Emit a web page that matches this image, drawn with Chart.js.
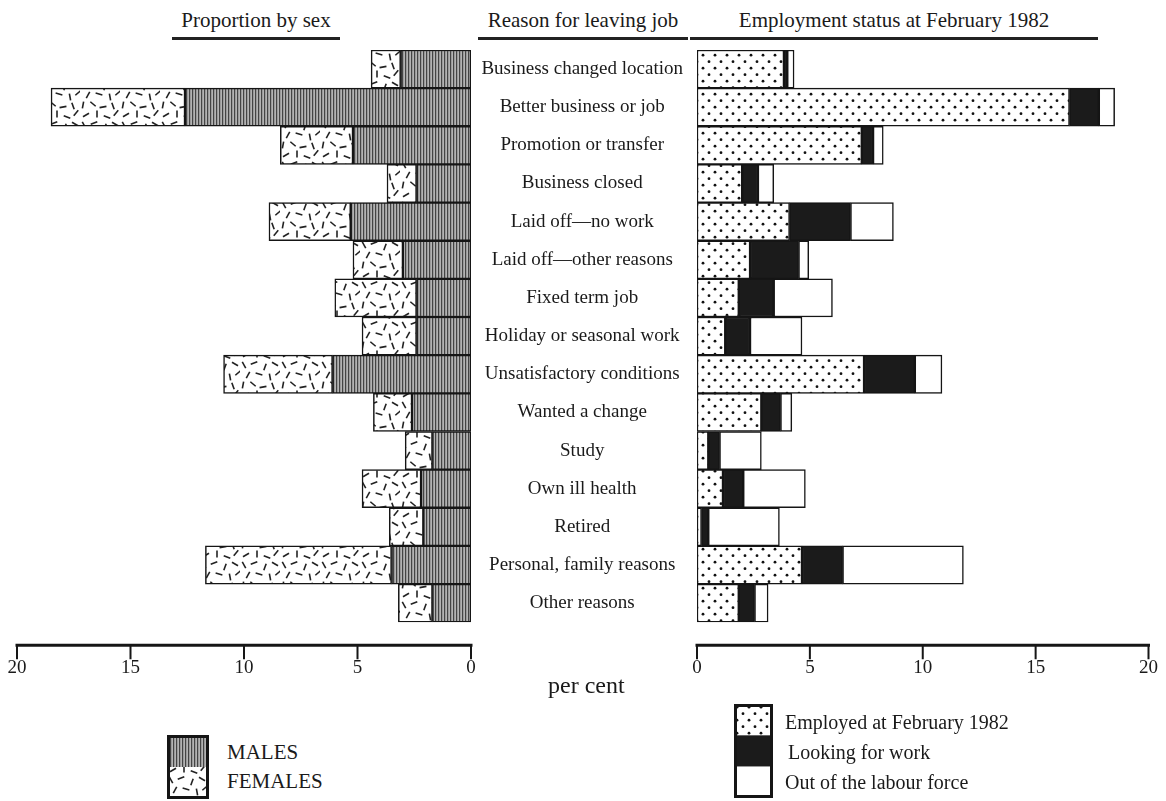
<!DOCTYPE html>
<html>
<head>
<meta charset="utf-8">
<script src="https://cdn.jsdelivr.net/npm/chart.js@4.4.1/dist/chart.umd.min.js"></script>
<style>
    body { margin: 0; background: #fff; font-family: "Liberation Serif", "DejaVu Serif", serif; color: #1a1a1a; }
    #page { position: relative; width: 1166px; height: 801px; overflow: hidden; }
    .box { position: absolute; }
    .head { position: absolute; top: 6px; height: 31px; font-size: 21px; text-align: center; border-bottom: 3px solid #222; line-height: 28px; white-space: nowrap; }
    .lab { position: absolute; white-space: nowrap; line-height: 1; }
</style>
</head>
<body>
<div id="page">
    <div class="head" style="left:172px; width:168px;">Proportion by sex</div>
    <div class="head" style="left:478px; width:210px;">Reason for leaving job</div>
    <div class="head" style="left:690px; width:408px;">Employment status at February 1982</div>

    <div class="box" style="left:0; top:0; width:476px; height:735px;"><canvas id="sexChart"></canvas></div>
    <!-- wider than the page on purpose: chart.js keeps tick padding at the right end -->
    <div class="box" style="left:472px; top:0; width:720px; height:735px;"><canvas id="statusChart"></canvas></div>

    <div class="lab" style="left:548px; top:673px; font-size:24px;">per cent</div>

    <!-- legends -->
    <canvas id="legSex" width="42" height="64" style="position:absolute; left:167px; top:735px;"></canvas>
    <div class="lab" style="left:227px; top:742px; font-size:21px;">MALES</div>
    <div class="lab" style="left:227px; top:771px; font-size:21px;">FEMALES</div>

    <canvas id="legStatus" width="39" height="94" style="position:absolute; left:734px; top:704px;"></canvas>
    <div class="lab" style="left:785px; top:712px; font-size:20px;">Employed at February 1982</div>
    <div class="lab" style="left:788px; top:742px; font-size:20px;">Looking for work</div>
    <div class="lab" style="left:785px; top:772px; font-size:20px;">Out of the labour force</div>
</div>

<script>
const reasons = [
    "Business changed location",
    "Better business or job",
    "Promotion or transfer",
    "Business closed",
    "Laid off\u2014no work",
    "Laid off\u2014other reasons",
    "Fixed term job",
    "Holiday or seasonal work",
    "Unsatisfactory conditions",
    "Wanted a change",
    "Study",
    "Own ill health",
    "Retired",
    "Personal, family reasons",
    "Other reasons",
];

// per cent
const males = [3.1, 12.6, 5.2, 2.4, 5.3, 3.0, 2.4, 2.4, 6.1, 2.6, 1.7, 2.2, 2.1, 3.5, 1.7];
const females = [1.3, 5.9, 3.2, 1.3, 3.6, 2.2, 3.6, 2.4, 4.8, 1.7, 1.2, 2.6, 1.5, 8.2, 1.5];

const employed = [3.85, 16.5, 7.3, 2.0, 4.1, 2.35, 1.85, 1.25, 7.4, 2.85, 0.5, 1.15, 0.2, 4.65, 1.85];
const looking = [0.15, 1.3, 0.5, 0.7, 2.7, 2.15, 1.55, 1.1, 2.25, 0.85, 0.5, 0.9, 0.3, 1.8, 0.7];
const outOfLabour = [0.3, 0.7, 0.45, 0.7, 1.9, 0.45, 2.6, 2.3, 1.2, 0.5, 1.85, 2.75, 3.15, 5.35, 0.6];

const xTicks = [0, 5, 10, 15, 20];

// ---- fill patterns ----
function makePattern(w, h, paint) {
    const c = document.createElement("canvas");
    c.width = w; c.height = h;
    paint(c.getContext("2d"));
    return document.createElement("canvas").getContext("2d").createPattern(c, "repeat");
}

const malePattern = makePattern(3, 3, (g) => {
    g.fillStyle = "#b3b3b3"; g.fillRect(0, 0, 3, 3);
    g.fillStyle = "#9a9a9a"; g.fillRect(1, 0, 1, 3);
    g.fillStyle = "#444"; g.fillRect(0, 0, 1, 3);
});

const dashes = [[4,5,60],[14,3,-20],[25,7,110],[35,4,30],[8,15,-60],[19,14,15],[30,17,80],[38,13,-40],
                [3,25,100],[13,24,40],[23,27,-10],[33,26,70],[6,35,-30],[17,34,90],[27,37,20],[36,33,130]];
const femalePattern = makePattern(40, 40, (g) => {
    g.fillStyle = "#fff"; g.fillRect(0, 0, 40, 40);
    g.strokeStyle = "#222"; g.lineWidth = 1.6;
    dashes.forEach(([x, y, a]) => {
        const r = a * Math.PI / 180, dx = Math.cos(r) * 3.5, dy = Math.sin(r) * 3.5;
        g.beginPath(); g.moveTo(x - dx, y - dy); g.lineTo(x + dx, y + dy); g.stroke();
    });
});

const dotPattern = makePattern(12, 13, (g) => {
    g.fillStyle = "#fff"; g.fillRect(0, 0, 12, 13);
    g.fillStyle = "#111";
    [[3, 3.2], [9, 9.7]].forEach(([x, y]) => { g.beginPath(); g.arc(x, y, 1.4, 0, Math.PI * 2); g.fill(); });
});

// axis line with downward ticks, a little below the bars
const axisLine = {
    id: "axisLine",
    afterDraw(chart) {
        const xs = chart.scales.x, ctx = chart.ctx;
        const y0 = chart.chartArea.bottom + 23;
        ctx.save();
        ctx.strokeStyle = "#161616";
        ctx.lineCap = "square";
        ctx.lineWidth = 3;
        ctx.beginPath();
        ctx.moveTo(xs.getPixelForValue(0), y0);
        ctx.lineTo(xs.getPixelForValue(20), y0);
        ctx.stroke();
        ctx.lineWidth = 2;
        ctx.beginPath();
        xTicks.forEach((v) => {
            const px = xs.getPixelForValue(v);
            ctx.moveTo(px, y0); ctx.lineTo(px, y0 + 13);
        });
        ctx.stroke();
        ctx.restore();
    }
};

const font = { family: "'Liberation Serif', serif", size: 19 };

function xAxis(reverse) {
    return {
        type: "linear", stacked: true, reverse: reverse, min: 0, max: 20,
        afterBuildTicks: (s) => { s.ticks = xTicks.map((v) => ({ value: v })); },
        grid: { display: false, drawTicks: false },
        border: { display: false },
        ticks: { font: font, color: "#1a1a1a", padding: 34, maxRotation: 0 },
    };
}

function barSet(label, data, fill) {
    return {
        label: label, data: data, backgroundColor: fill,
        borderColor: "#151515", borderWidth: 1.5, borderSkipped: false,
        barPercentage: 1, categoryPercentage: 1,
    };
}

// left panel: males / females, axis running right-to-left
new Chart(document.getElementById("sexChart"), {
    type: "bar",
    data: {
        labels: reasons,
        datasets: [barSet("MALES", males, malePattern), barSet("FEMALES", females, femalePattern)],
    },
    options: {
        indexAxis: "y", animation: false, responsive: true, maintainAspectRatio: false,
        layout: { padding: { left: 17, right: 5, top: 50, bottom: 22 } },
        plugins: { legend: { display: false }, tooltip: { enabled: false } },
        scales: {
            x: xAxis(true),
            y: { stacked: true, display: false },
        },
    },
    plugins: [axisLine],
});

// right panel: employment status, reasons as centred y labels
new Chart(document.getElementById("statusChart"), {
    type: "bar",
    data: {
        labels: reasons,
        datasets: [
            barSet("Employed at February 1982", employed, dotPattern),
            barSet("Looking for work", looking, "#1b1b1b"),
            barSet("Out of the labour force", outOfLabour, "#ffffff"),
        ],
    },
    options: {
        indexAxis: "y", animation: false, responsive: true, maintainAspectRatio: false,
        layout: { padding: { left: 0, right: 0, top: 50, bottom: 22 } },
        plugins: { legend: { display: false }, tooltip: { enabled: false } },
        scales: {
            x: xAxis(false),
            y: {
                stacked: true,
                grid: { display: false, drawTicks: false },
                border: { display: false },
                afterFit: (s) => { s.width = 225; },
                ticks: { font: font, color: "#1a1a1a", crossAlign: "center", padding: 14, autoSkip: false },
            },
        },
    },
    plugins: [axisLine],
});

// legend swatches
function swatches(id, fills) {
    const cv = document.getElementById(id), g = cv.getContext("2d");
    const h = cv.height / fills.length;
    fills.forEach((f, i) => { g.fillStyle = f; g.fillRect(0, i * h, cv.width, h); });
    g.strokeStyle = "#151515"; g.lineWidth = 3;
    g.strokeRect(1.5, 1.5, cv.width - 3, cv.height - 3);
}
swatches("legSex", [malePattern, femalePattern]);
swatches("legStatus", [dotPattern, "#1b1b1b", "#ffffff"]);
</script>
</body>
</html>
